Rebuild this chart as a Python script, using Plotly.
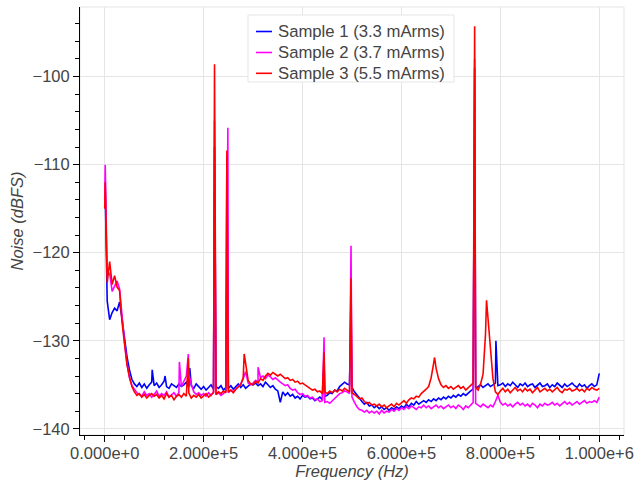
import numpy as np
import plotly.graph_objects as go

# ---------------- data ----------------
# base grid: 0 .. 1e6 Hz, one reading every 5 kHz (10 per row = 50 kHz)
freq_grid = [i * 5e3 for i in range(201)]

sample1_db = [
    -113.5, -125.5, -127.6, -126.8, -126.3, -126.6, -125.6, -127.5, -129.8, -131.8,
    -133.3, -134.4, -134.9, -135.2, -134.8, -135.3, -134.9, -135.4, -135.0, -134.7,
    -135.1, -134.8, -135.3, -135.0, -134.6, -135.2, -135.4, -134.9, -135.1, -135.3,
    -134.9, -135.2, -135.0, -134.7, -135.3, -135.1, -135.4, -134.9, -135.2, -135.5,
    -135.2, -135.6, -135.3, -135.0, -135.5, -135.2, -135.4, -135.1, -135.6, -135.3,
    -135.4, -135.1, -135.5, -135.2, -134.9, -135.3, -135.0, -135.4, -135.2, -134.9,
    -135.0, -134.8, -135.1, -134.9, -135.2, -134.7, -135.0, -135.3, -135.1, -135.5,
    -135.7, -137.0, -135.8, -136.2, -135.9, -136.3, -136.1, -136.5, -136.3, -136.6,
    -136.2, -136.4, -136.3, -136.6, -136.5, -136.8, -136.6, -136.4, -136.7, -136.3,
    -136.2, -135.9, -136.0, -135.6, -135.7, -135.2, -135.0, -134.7, -134.9, -135.0,
    -135.3, -135.8, -136.1, -136.5, -136.9, -137.2, -137.0, -137.4, -137.3, -137.6,
    -137.4, -137.7, -137.5, -137.8, -137.6, -137.9, -137.6, -137.8, -137.5, -137.7,
    -137.4, -137.6, -137.2, -137.5, -137.1, -137.3, -136.9, -137.2, -137.0, -136.8,
    -137.0, -136.7, -136.9, -136.6, -136.8, -136.5, -136.7, -136.4, -136.6, -136.3,
    -136.5, -136.2, -136.4, -136.1, -136.3, -136.0, -136.2, -135.9, -135.7, -135.5,
    -135.4, -135.2, -135.0, -135.3, -135.1, -134.9, -135.2, -135.0, -134.8, -135.1,
    -135.0, -134.8, -135.2, -134.9, -135.1, -134.7, -135.0, -135.3, -134.9, -135.1,
    -134.8, -135.2, -135.0, -134.9, -135.3, -135.0, -134.8, -135.2, -135.1, -134.9,
    -135.3, -135.0, -135.2, -134.8, -135.1, -135.3, -134.9, -135.2, -135.0, -134.8,
    -135.1, -135.3, -134.9, -135.2, -135.0, -135.4, -135.1, -134.9, -135.2, -135.0,
    -133.7,
]

sample2_db = [
    -114.0, -122.6, -122.3, -124.4, -123.8, -123.2, -124.1, -127.4, -130.2, -132.6,
    -134.2, -135.1, -135.5, -135.9, -136.1, -136.3, -135.8, -136.2, -136.0, -136.4,
    -136.1, -135.7, -136.3, -136.0, -136.2, -135.8, -136.4, -136.1, -135.9, -136.3,
    -135.9, -135.2, -134.6, -134.0, -133.8, -134.9, -135.8, -136.1, -135.9, -136.2,
    -136.0, -136.3, -135.9, -136.2, -135.8, -136.1, -135.9, -136.2, -136.0, -135.7,
    -135.9, -135.6, -135.8, -135.5, -135.2, -134.9, -134.3, -133.5, -134.8, -135.0,
    -134.8, -134.5, -134.6, -134.2, -134.0, -134.3, -133.9, -134.1, -134.4, -134.2,
    -134.5, -134.7, -134.9, -135.1, -135.0, -135.4, -135.6, -135.5, -135.9, -136.1,
    -136.0, -136.3, -136.2, -136.5, -136.4, -136.7, -136.6, -136.9, -136.8, -137.0,
    -136.9, -137.1, -136.8, -136.5, -136.3, -136.0, -135.9, -135.7, -135.8, -136.0,
    -136.4, -137.0, -137.5, -137.8, -137.9, -138.1, -137.9, -138.2, -138.0, -138.2,
    -138.0, -138.3, -137.9, -138.2, -138.0, -138.1, -137.8, -138.0, -137.7, -137.9,
    -137.6, -137.8, -137.5, -137.7, -137.4, -137.6, -137.8, -137.5, -137.6, -137.3,
    -137.6, -137.4, -137.7, -137.5, -137.3, -137.6, -137.4, -137.7, -137.5, -137.3,
    -137.6, -137.4, -137.7, -137.3, -137.5, -137.8, -137.4, -137.6, -137.3, -137.0,
    -137.1, -137.3, -137.5, -137.2, -137.4, -137.6, -137.3, -137.5, -136.9, -136.2,
    -137.0, -137.3, -137.1, -137.4, -137.2, -137.5, -137.2, -137.0, -137.3, -137.1,
    -137.4, -137.2, -137.5, -137.1, -137.3, -137.6, -137.2, -137.4, -137.1, -137.3,
    -137.2, -137.0, -137.3, -137.1, -137.4, -137.2, -136.9, -137.2, -137.0, -137.3,
    -137.1, -136.9, -137.2, -137.0, -136.8, -137.1, -136.9, -137.0, -136.8, -137.0,
    -136.4,
]

sample3_db = [
    -115.0, -123.4, -121.0, -123.6, -122.6, -123.9, -124.3, -127.9, -130.6, -132.7,
    -134.1, -135.2, -135.8, -136.2, -136.0, -136.4, -136.1, -136.5, -136.2, -136.0,
    -136.3, -136.1, -136.5, -136.2, -136.6, -136.0, -136.4, -136.2, -136.7, -136.3,
    -136.1, -136.4, -136.0, -136.3, -135.9, -136.5, -136.2, -136.4, -136.1, -136.5,
    -136.3, -136.0, -136.4, -136.2, -135.9, -136.1, -135.8, -136.0, -135.7, -135.9,
    -135.8, -135.6, -135.9, -135.5, -135.3, -135.0, -134.2, -132.6, -134.5, -134.9,
    -135.0, -134.6, -134.8, -134.3, -134.5, -134.0, -133.7, -133.9, -133.6, -133.8,
    -134.0, -133.8, -134.1, -134.3, -134.2, -134.5, -134.4, -134.7, -134.6, -134.9,
    -134.8, -135.0, -135.2, -135.4, -135.6, -135.5, -135.8, -135.7, -136.0, -135.8,
    -136.0, -135.7, -135.9, -135.6, -135.8, -135.5, -135.7, -135.4, -135.6, -135.8,
    -135.9, -136.1, -136.3, -136.6, -136.5, -136.9, -137.1, -137.0, -137.3, -137.2,
    -137.4, -137.2, -137.5, -137.3, -137.6, -137.4, -137.2, -137.5, -137.1, -137.3,
    -137.0, -136.8, -137.1, -136.7, -136.5, -136.6, -136.3, -136.4, -136.0, -135.8,
    -135.5, -135.2, -134.2, -132.6, -133.1, -134.3, -135.0, -135.3, -135.1, -135.4,
    -135.2, -135.5, -135.3, -135.1, -135.4, -135.2, -135.6, -135.3, -135.0, -134.8,
    -135.3, -135.6, -134.9, -133.8, -129.2, -127.5, -131.5, -134.3, -135.8, -136.1,
    -135.7, -135.4, -135.8, -135.5, -135.9, -135.6, -135.3, -135.7, -135.5, -135.8,
    -135.4, -135.7, -135.5, -135.9, -135.6, -135.3, -135.8, -135.6, -135.4, -135.7,
    -135.5, -135.8, -135.6, -135.3, -135.7, -135.9, -135.5, -135.6, -135.4, -135.7,
    -135.6, -135.4, -135.7, -135.5, -135.8, -135.4, -135.6, -135.3, -135.5, -135.6,
    -135.4,
]

# narrow tones (frequency in Hz, level in dBFS)
sample1_tone_f = [1e3, 9.6e4, 1.22e5, 1.72e5, 2.22e5, 2.47e5, 4.435e5, 4.98e5, 7.48e5, 7.91e5]
sample1_tone_db = [-113.0, -133.3, -134.0, -133.1, -108.0, -109.0, -132.5, -126.0, -99.0, -130.0]

sample2_tone_f = [1e3, 1.51e5, 1.69e5, 2.22e5, 2.49e5, 3.1e5, 4.435e5, 4.98e5, 7.48e5]
sample2_tone_db = [-110.0, -132.4, -131.5, -105.0, -105.8, -133.0, -129.6, -119.2, -98.0]

sample3_tone_f = [1e3, 1.69e5, 2.22e5, 2.47e5, 2.82e5, 4.435e5, 4.98e5, 6.67e5, 7.48e5, 7.72e5]
sample3_tone_db = [-112.0, -132.0, -98.6, -108.4, -131.5, -131.3, -122.9, -131.9, -94.3, -125.4]

series_names = ["Sample 1 (3.3 mArms)", "Sample 2 (3.7 mArms)", "Sample 3 (5.5 mArms)"]
series_colors = ["#0000ff", "#ff00ff", "#ff0000"]

x_tick_vals = [0, 2e5, 4e5, 6e5, 8e5, 1e6]
x_tick_text = ["0.000e+0", "2.000e+5", "4.000e+5", "6.000e+5", "8.000e+5", "1.000e+6"]
y_tick_vals = [-140, -130, -120, -110, -100]


def merge(grid_f, grid_v, tone_f, tone_v):
    f = np.concatenate([np.asarray(grid_f, float), np.asarray(tone_f, float)])
    v = np.concatenate([np.asarray(grid_v, float), np.asarray(tone_v, float)])
    order = np.argsort(f, kind="stable")
    return f[order], v[order]


series = [
    merge(freq_grid, sample1_db, sample1_tone_f, sample1_tone_db),
    merge(freq_grid, sample2_db, sample2_tone_f, sample2_tone_db),
    merge(freq_grid, sample3_db, sample3_tone_f, sample3_tone_db),
]

FONT = "Liberation Sans, Arial, Helvetica, sans-serif"
TXT = "#444444"
W, H = 636, 489
ML, MR, MT, MB = 80, 12, 7, 54
PW, PH = W - ML - MR, H - MT - MB


def px_x(px):
    return (px - ML) / PW


def px_y(py):
    return 1 - (py - MT) / PH


fig = go.Figure()
for (f, v), name, col in zip(series, series_names, series_colors):
    fig.add_trace(go.Scatter(x=f, y=v, mode="lines", name=name,
                             line=dict(color=col, width=1.6)))

axis_common = dict(
    showline=True, linecolor="#000000", linewidth=1,
    ticks="outside", ticklen=6, tickwidth=1, tickcolor="#000000",
    showgrid=True, gridcolor="#e5e5e5", gridwidth=1,
    zeroline=False,
    tickfont=dict(family=FONT, size=16.5, color=TXT),
)

# legend box drawn in Bokeh style (box, short line glyphs, labels)
shapes = [dict(type="rect", xref="paper", yref="paper", x0=0, y0=0, x1=1, y1=1,
               line=dict(color="#e5e5e5", width=1), layer="below")]
annotations = []
LEG_L, LEG_R, LEG_T, LEG_B = 248, 454, 15, 82
shapes.append(dict(type="rect", xref="paper", yref="paper",
                   x0=px_x(LEG_L), x1=px_x(LEG_R), y0=px_y(LEG_B), y1=px_y(LEG_T),
                   line=dict(color="#e5e5e5", width=1),
                   fillcolor="rgba(255,255,255,0.95)", layer="above"))
row_y = [31.5, 52.5, 73.3]
for name, col, ry in zip(series_names, series_colors, row_y):
    shapes.append(dict(type="line", xref="paper", yref="paper",
                       x0=px_x(256), x1=px_x(272), y0=px_y(ry), y1=px_y(ry),
                       line=dict(color=col, width=1.6), layer="above"))
    annotations.append(dict(xref="paper", yref="paper", x=px_x(276), y=px_y(ry),
                            xanchor="left", yanchor="middle", text=name, showarrow=False,
                            font=dict(family=FONT, size=16.7, color=TXT)))

fig.update_layout(
    width=W, height=H,
    margin=dict(l=ML, r=MR, t=MT, b=MB, autoexpand=False),
    paper_bgcolor="white", plot_bgcolor="white",
    font=dict(family=FONT, size=16.5, color=TXT),
    showlegend=False,
    xaxis=dict(range=[-5e4, 1.05e6], tickvals=x_tick_vals, ticktext=x_tick_text,
               ticklabelstandoff=-3,
               minor=dict(ticks="outside", ticklen=4, dtick=4e4, tick0=0,
                          tickcolor="#000000", showgrid=False),
               title=dict(text="Frequency (Hz)", standoff=0,
                          font=dict(family=FONT, size=16.5, color=TXT, style="italic")),
               automargin=False,
               **axis_common),
    yaxis=dict(range=[-140.7, -92.1], tickvals=y_tick_vals,
               minor=dict(ticks="outside", ticklen=4, dtick=2, tick0=-140,
                          tickcolor="#000000", showgrid=False),
               title=dict(text="Noise (dBFS)", standoff=4,
                          font=dict(family=FONT, size=16.5, color=TXT, style="italic")),
               automargin=False,
               **axis_common),
    shapes=shapes,
    annotations=annotations,
)

fig.write_html("out.html")
